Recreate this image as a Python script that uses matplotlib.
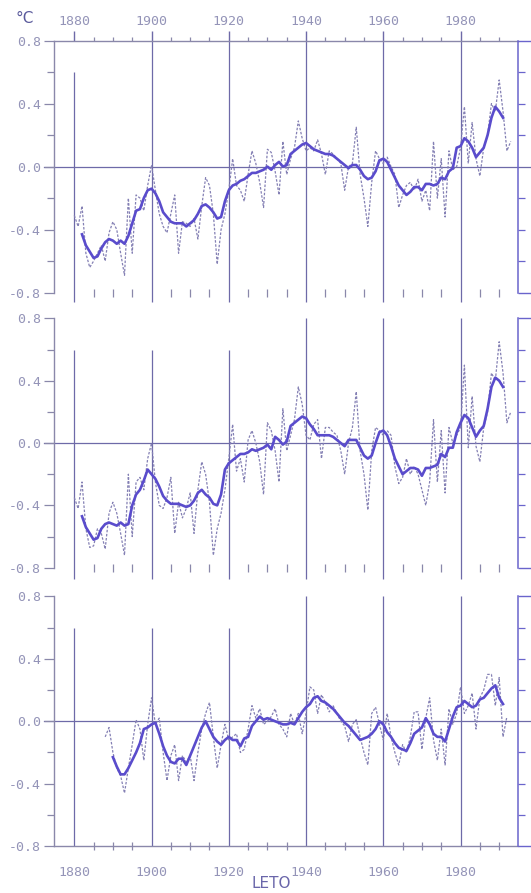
import numpy as np
import matplotlib
matplotlib.use("Agg")
import matplotlib.pyplot as plt
from matplotlib.ticker import FixedLocator, NullFormatter

# ---------------- data ----------------
p1_years_annual = np.arange(1880, 1994)
p1_annual = [-0.31, -0.38, -0.25, -0.55, -0.64, -0.60, -0.55, -0.50, -0.60, -0.42,
             -0.35, -0.40, -0.55, -0.69, -0.20, -0.55, -0.18, -0.20, -0.28, -0.12,
             0.01, -0.15, -0.30, -0.38, -0.42, -0.30, -0.18, -0.55, -0.35, -0.36,
             -0.38, -0.33, -0.46, -0.25, -0.07, -0.12, -0.30, -0.62, -0.40, -0.30,
             -0.15, 0.05, -0.12, -0.15, -0.22, -0.05, 0.10, 0.02, -0.10, -0.26,
             0.11, 0.09, -0.03, -0.18, 0.16, -0.05, 0.05, 0.12, 0.29, 0.18,
             0.10, 0.12, 0.10, 0.17, 0.08, -0.05, 0.10, 0.08, 0.05, 0.02,
             -0.15, 0.00, 0.02, 0.25, -0.05, -0.20, -0.38, -0.10, 0.10, 0.05,
             0.02, 0.06, 0.00, -0.05, -0.26, -0.18, -0.12, -0.10, -0.15, -0.08,
             -0.22, -0.15, -0.28, 0.16, -0.20, 0.05, -0.32, 0.10, -0.02, 0.00,
             0.12, 0.38, 0.02, 0.28, 0.05, -0.06, 0.12, 0.20, 0.40, 0.35,
             0.55, 0.35, 0.10, 0.16]
p1_years_smooth = np.arange(1882, 1992)
p1_smooth = [-0.43, -0.50, -0.54, -0.58, -0.57, -0.52, -0.48, -0.46,
             -0.47, -0.49, -0.47, -0.49, -0.44, -0.36, -0.28, -0.27, -0.20, -0.15,
             -0.14, -0.17, -0.22, -0.29, -0.32, -0.35, -0.36, -0.36, -0.36, -0.38,
             -0.36, -0.34, -0.30, -0.25, -0.24, -0.26, -0.29, -0.33, -0.32, -0.22,
             -0.15, -0.12, -0.11, -0.09, -0.08, -0.06, -0.04, -0.04, -0.03, -0.02,
             0.00, -0.02, 0.01, 0.03, 0.00, 0.01, 0.08, 0.10, 0.12, 0.14,
             0.15, 0.13, 0.11, 0.10, 0.09, 0.08, 0.08, 0.07, 0.05, 0.03,
             0.01, -0.01, 0.01, 0.01, -0.02, -0.06, -0.08, -0.07, -0.03, 0.04,
             0.05, 0.03, -0.02, -0.07, -0.12, -0.15, -0.18, -0.16, -0.13, -0.13,
             -0.15, -0.11, -0.11, -0.12, -0.11, -0.07, -0.08, -0.03, -0.01, 0.12,
             0.13, 0.18, 0.16, 0.12, 0.06, 0.09, 0.12, 0.20, 0.31, 0.38,
             0.35, 0.31]

p2_years_annual = np.arange(1880, 1994)
p2_annual = [-0.35, -0.42, -0.25, -0.55, -0.67, -0.66, -0.55, -0.58, -0.68, -0.45,
             -0.38, -0.45, -0.58, -0.72, -0.20, -0.60, -0.25, -0.22, -0.30, -0.10,
             0.00, -0.25, -0.40, -0.42, -0.35, -0.22, -0.58, -0.38, -0.48, -0.42,
             -0.32, -0.58, -0.30, -0.12, -0.20, -0.38, -0.72, -0.55, -0.45, -0.30,
             -0.10, 0.12, -0.18, -0.10, -0.25, 0.02, 0.08, 0.00, -0.12, -0.33,
             0.13, 0.08, -0.05, -0.25, 0.22, -0.05, 0.05, 0.15, 0.36, 0.25,
             0.05, 0.02, 0.12, 0.15, -0.10, 0.10, 0.10, 0.07, 0.05, -0.05,
             -0.20, 0.00, 0.10, 0.33, -0.05, -0.20, -0.43, -0.05, 0.10, 0.08,
             0.05, 0.08, 0.05, -0.15, -0.26, -0.22, -0.10, -0.20, -0.15, -0.20,
             -0.30, -0.40, -0.25, 0.15, -0.25, 0.08, -0.32, 0.10, 0.00, 0.05,
             0.10, 0.50, -0.03, 0.30, -0.02, -0.12, 0.10, 0.20, 0.45, 0.40,
             0.65, 0.45, 0.13, 0.20]
p2_years_smooth = np.arange(1882, 1992)
p2_smooth = [-0.47, -0.54, -0.58, -0.62, -0.61, -0.55, -0.52, -0.51,
             -0.52, -0.53, -0.51, -0.53, -0.52, -0.40, -0.33, -0.30, -0.24, -0.17,
             -0.20, -0.23, -0.28, -0.34, -0.37, -0.39, -0.39, -0.39, -0.40, -0.41,
             -0.40, -0.37, -0.32, -0.30, -0.33, -0.35, -0.39, -0.40, -0.33, -0.17,
             -0.13, -0.11, -0.09, -0.07, -0.07, -0.06, -0.04, -0.05, -0.04, -0.03,
             -0.01, -0.04, 0.04, 0.02, -0.01, 0.01, 0.11, 0.13, 0.15, 0.17,
             0.16, 0.12, 0.09, 0.05, 0.05, 0.05, 0.05, 0.04, 0.02, 0.00,
             -0.02, 0.02, 0.02, 0.02, -0.03, -0.08, -0.10, -0.08, 0.00, 0.07,
             0.08, 0.05, -0.02, -0.10, -0.15, -0.20, -0.18, -0.16, -0.16, -0.17,
             -0.21, -0.16, -0.16, -0.15, -0.14, -0.07, -0.09, -0.03, -0.03, 0.07,
             0.13, 0.18, 0.16, 0.10, 0.04, 0.08, 0.11, 0.22, 0.36, 0.42,
             0.40, 0.36]

p3_years_annual = np.arange(1888, 1993)
p3_annual = [-0.10, -0.04,
             -0.20, -0.30, -0.35, -0.46, -0.30, -0.15, 0.01, -0.05, -0.25, -0.02,
             0.15, -0.02, 0.02, -0.20, -0.38, -0.22, -0.15, -0.38, -0.22, -0.26,
             -0.22, -0.38, -0.20, -0.05, 0.05, 0.12, -0.10, -0.30, -0.15, -0.02,
             -0.12, -0.10, -0.08, -0.20, -0.18, -0.05, 0.10, 0.02, 0.08, -0.02,
             0.00, 0.03, 0.08, -0.02, -0.05, -0.10, 0.05, -0.02, 0.05, -0.08,
             0.05, 0.22, 0.20, 0.05, 0.17, 0.12, 0.06, 0.10, 0.05, 0.00,
             -0.03, -0.13, -0.02, 0.01, -0.10, -0.20, -0.28, 0.05, 0.09, -0.02,
             -0.12, 0.05, -0.10, -0.20, -0.28, -0.15, -0.20, -0.10, 0.06, 0.06,
             -0.18, 0.02, 0.15, -0.12, -0.25, -0.05, -0.28, 0.08, -0.02, 0.05,
             0.22, 0.05, 0.10, 0.18, -0.05, 0.15, 0.20, 0.30, 0.30, 0.10,
             0.28, -0.10, 0.03]
p3_years_smooth = np.arange(1890, 1992)
p3_smooth = [-0.23, -0.29, -0.34, -0.34, -0.30, -0.25, -0.20, -0.14, -0.05, -0.04,
             -0.02, -0.01, -0.08, -0.16, -0.22, -0.26, -0.27, -0.24, -0.24, -0.28,
             -0.22, -0.16, -0.10, -0.04, 0.00, -0.05, -0.10, -0.13, -0.15, -0.12,
             -0.10, -0.12, -0.12, -0.16, -0.11, -0.10, -0.03, 0.00, 0.03, 0.01,
             0.02, 0.01, 0.00, -0.01, -0.02, -0.02, -0.01, -0.02, 0.02, 0.06,
             0.09, 0.11, 0.15, 0.16, 0.13, 0.12, 0.10, 0.08, 0.05, 0.02,
             -0.01, -0.03, -0.06, -0.09, -0.12, -0.11, -0.10, -0.08, -0.05, 0.00,
             -0.02, -0.07, -0.10, -0.14, -0.17, -0.18, -0.19, -0.14, -0.08, -0.06,
             -0.04, 0.02, -0.02, -0.08, -0.10, -0.10, -0.13, -0.05, 0.03, 0.09,
             0.10, 0.13, 0.11, 0.09, 0.10, 0.14, 0.15, 0.18, 0.21, 0.23,
             0.15, 0.11]

decade_marks = [1880, 1900, 1920, 1940, 1960, 1980]
y_ticks = [-0.8, -0.4, 0.0, 0.4, 0.8]
y_tick_labels = ["-0.8", "-0.4", "0.0", "0.4", "0.8"]

# ---------------- style ----------------
C_SMOOTH = "#5a4ccc"
C_ANNUAL = "#8480b4"
C_GRID = "#6e6aa8"
C_LSPINE = "#8a88aa"
C_RSPINE = "#6a64cc"
C_TEXT = "#9494b8"
MONO = "DejaVu Sans Mono"

fig = plt.figure(figsize=(5.31, 8.93), dpi=100)
W, H = 531.0, 893.0
xl, xr = 54.2, 518.1
panels_px = [(40.6, 292.6), (318.4, 567.7), (596.3, 846.2)]
vline_tops = [[0.6, 0.8, 0.8, 0.8, 0.8, 0.8],
              [0.6, 0.6, 0.6, 0.8, 0.8, 0.8],
              [0.6, 0.6, 0.6, 0.8, 0.8, 0.8]]
vline_bottom = [-0.86, -0.87, -0.8]

series = [(p1_years_annual, p1_annual, p1_years_smooth, p1_smooth),
          (p2_years_annual, p2_annual, p2_years_smooth, p2_smooth),
          (p3_years_annual, p3_annual, p3_years_smooth, p3_smooth)]

minor_years = [y for y in range(1885, 1995, 5) if y % 20 != 0]

for i, ((top, bot), (ya, va, ys, vs)) in enumerate(zip(panels_px, series)):
    ax = fig.add_axes([xl / W, 1 - bot / H, (xr - xl) / W, (bot - top) / H])
    ax.set_xlim(1874.8, 1994.9)
    ax.set_ylim(-0.8, 0.8)
    ax.patch.set_alpha(0)
    for s in ["top", "right", "bottom"]:
        ax.spines[s].set_visible(False)
    ax.spines["left"].set_color(C_LSPINE)
    ax.spines["left"].set_linewidth(1.0)

    # y axis left
    ax.yaxis.set_major_locator(FixedLocator(y_ticks))
    ax.set_yticklabels(y_tick_labels, fontfamily=MONO, fontsize=9.5, color=C_TEXT)
    ax.yaxis.set_minor_locator(FixedLocator([-0.6, -0.2, 0.2, 0.6]))
    ax.tick_params(axis="y", which="major", direction="out", length=7.5, width=0.9,
                   color=C_LSPINE, pad=2)
    ax.tick_params(axis="y", which="minor", direction="out", length=5, width=0.9,
                   color=C_LSPINE)

    # x axis bottom
    ax.xaxis.set_major_locator(FixedLocator(decade_marks))
    ax.xaxis.set_minor_locator(FixedLocator(minor_years))
    ax.xaxis.set_minor_formatter(NullFormatter())
    if i < 2:
        ax.tick_params(axis="x", which="major", length=0, labelbottom=False)
        ax.tick_params(axis="x", which="minor", direction="inout", length=6,
                       width=0.9, color=C_LSPINE)
    else:
        ax.spines["bottom"].set_visible(True)
        ax.spines["bottom"].set_color(C_LSPINE)
        ax.spines["bottom"].set_linewidth(1.0)
        ax.set_xticklabels([str(d) for d in decade_marks], fontfamily=MONO,
                           fontsize=9.5, color=C_TEXT)
        ax.tick_params(axis="x", which="major", length=0, pad=14)
        ax.tick_params(axis="x", which="minor", direction="inout", length=6,
                       width=0.9, color=C_LSPINE)

    if i == 0:
        ax.spines["top"].set_visible(True)
        ax.spines["top"].set_color(C_LSPINE)
        ax.spines["top"].set_linewidth(1.0)
        sec = ax.secondary_xaxis("top")
        sec.spines["top"].set_visible(False)
        sec.xaxis.set_major_locator(FixedLocator(decade_marks))
        sec.xaxis.set_minor_locator(FixedLocator(minor_years))
        sec.xaxis.set_minor_formatter(NullFormatter())
        sec.set_xticklabels([str(d) for d in decade_marks], fontfamily=MONO,
                            fontsize=9.5, color=C_TEXT)
        sec.tick_params(axis="x", which="major", direction="out", length=7.5,
                        width=1.0, color=C_GRID, pad=1.5)
        sec.tick_params(axis="x", which="minor", direction="out", length=3,
                        width=0.9, color=C_LSPINE)

    # right axis
    rax = ax.twinx()
    rax.set_ylim(-0.8, 0.8)
    for s in ["top", "left", "bottom"]:
        rax.spines[s].set_visible(False)
    rax.spines["right"].set_color(C_RSPINE)
    rax.spines["right"].set_linewidth(1.1)
    rax.yaxis.set_major_locator(FixedLocator([-0.8, 0.8]))
    rax.yaxis.set_minor_locator(FixedLocator([-0.6, -0.4, -0.2, 0.2, 0.4, 0.6]))
    rax.yaxis.set_major_formatter(NullFormatter())
    rax.tick_params(axis="y", which="major", direction="out", length=9.5,
                    width=1.0, color=C_RSPINE)
    rax.tick_params(axis="y", which="minor", direction="out", length=5,
                    width=0.9, color=C_RSPINE)

    # reference lines
    ax.axhline(0.0, xmin=-0.022, xmax=1.03, color=C_GRID, lw=0.9, clip_on=False,
               zorder=1)
    ax.vlines(decade_marks, vline_bottom[i], vline_tops[i], color=C_GRID, lw=0.9,
              clip_on=False, zorder=1)

    # data
    ax.plot(ya, va, color=C_ANNUAL, lw=0.9, linestyle=(0, (2.0, 1.3)), zorder=2)
    ax.plot(ys, vs, color=C_SMOOTH, lw=1.9, solid_joinstyle="round", zorder=3)

fig.text(25 / W, 1 - 18.5 / H, "°C", fontsize=11, color="#5a5a9c",
         ha="center", va="center")
fig.text(271 / W, 1 - 884 / H, "LETO", fontsize=11, color="#6a66aa",
         ha="center", va="center")

fig.savefig("out.png", dpi=100)
